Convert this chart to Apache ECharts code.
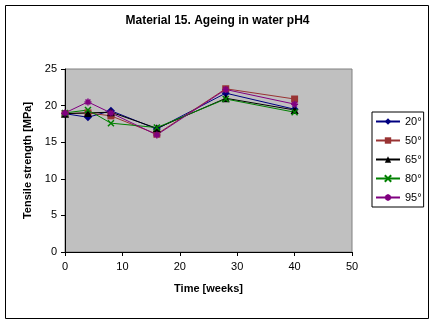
<!DOCTYPE html>
<html>
<head>
<meta charset="utf-8">
<script src="https://cdn.jsdelivr.net/npm/echarts@6/dist/echarts.min.js"></script>
<style>
  html, body { margin: 0; padding: 0; background: #fff; }
  #chart { width: 435px; height: 325px; }
</style>
</head>
<body>
<div id="chart"></div>
<script>
// Ageing time in weeks
const weeks = [0, 4, 8, 16, 28, 40];
// Tensile strength [MPa] for each ageing temperature
const s20 = [18.9, 18.4, 19.3, 16.8, 21.7, 19.5];
const s50 = [18.9, 19.0, 18.6, 16.1, 22.3, 20.9];
const s65 = [18.9, 19.0, 19.1, 16.9, 21.0, 19.4];
const s80 = [19.0, 19.4, 17.6, 17.0, 20.9, 19.1];
const s95 = [19.0, 20.5, 19.0, 16.0, 22.2, 20.2];
const seriesNames = ['20°', '50°', '65°', '80°', '95°'];
const xTicks = [0, 10, 20, 30, 40, 50];
const yTicks = [0, 5, 10, 15, 20, 25];

const crossPath = 'path://M0,0L10,10M10,0L0,10';
const starPath = 'path://M5,0L5,10M0,5L10,5M1.5,1.5L8.5,8.5M8.5,1.5L1.5,8.5';

function pairs(vals) {
  return weeks.map((w, i) => [w, vals[i]]);
}

const styles = [
  { color: '#000080', symbol: 'diamond', size: 8, stroke: false },
  { color: '#993333', symbol: 'rect', size: 7, stroke: false },
  { color: '#000000', symbol: 'triangle', size: 8, stroke: false },
  { color: '#008000', symbol: crossPath, size: 6, stroke: true },
  { color: '#800080', symbol: starPath, size: 7, stroke: true }
];
const allValues = [s20, s50, s65, s80, s95];

const chart = echarts.init(document.getElementById('chart'), null, { renderer: 'canvas' });

chart.setOption({
  animation: false,
  backgroundColor: '#ffffff',
  title: {
    text: 'Material 15. Ageing in water pH4',
    left: 'center',
    top: 10,
    textStyle: { fontFamily: 'Liberation Sans, Arial', fontSize: 12, fontWeight: 'bold', color: '#000' }
  },
  graphic: [{
    type: 'rect',
    shape: { x: 5.5, y: 5.5, width: 423, height: 313 },
    style: { fill: 'none', stroke: '#000', lineWidth: 1 },
    z: -1
  }],
  legend: {
    orient: 'vertical',
    left: 372,
    top: 112,
    padding: [4, 2, 4, 3],
    itemGap: 8,
    itemWidth: 24,
    itemHeight: 8,
    borderColor: '#000',
    borderWidth: 1,
    backgroundColor: '#fff',
    textStyle: { fontFamily: 'Liberation Sans, Arial', fontSize: 11, color: '#000' },
    data: seriesNames
  },
  grid: {
    left: 65, top: 69, right: 83, bottom: 73,
    show: true,
    backgroundColor: '#c0c0c0',
    borderColor: '#808080',
    borderWidth: 1
  },
  xAxis: {
    type: 'value',
    min: xTicks[0],
    max: xTicks[xTicks.length - 1],
    interval: 10,
    name: 'Time [weeks]',
    nameLocation: 'middle',
    nameGap: 31,
    nameTextStyle: { fontFamily: 'Liberation Sans, Arial', fontSize: 11, fontWeight: 'bold', color: '#000' },
    axisLine: { lineStyle: { color: '#000' } },
    axisTick: { length: 4, lineStyle: { color: '#000' } },
    axisLabel: { fontFamily: 'Liberation Sans, Arial', fontSize: 11, color: '#000', margin: 9 },
    splitLine: { show: false }
  },
  yAxis: {
    type: 'value',
    min: yTicks[0],
    max: yTicks[yTicks.length - 1],
    interval: 5,
    name: 'Tensile strength [MPa]',
    nameLocation: 'middle',
    nameGap: 26,
    nameTextStyle: { fontFamily: 'Liberation Sans, Arial', fontSize: 11, fontWeight: 'bold', color: '#000' },
    axisLine: { show: true, lineStyle: { color: '#000' } },
    axisTick: { show: true, length: 4, lineStyle: { color: '#000' } },
    axisLabel: { fontFamily: 'Liberation Sans, Arial', fontSize: 11, color: '#000', margin: 8 },
    splitLine: { show: false }
  },
  series: seriesNames.map((name, i) => {
    const st = styles[i];
    return {
      name: name,
      type: 'line',
      data: pairs(allValues[i]),
      symbol: st.symbol,
      symbolSize: st.size,
      showSymbol: true,
      lineStyle: { color: st.color, width: 1 },
      itemStyle: st.stroke
        ? { color: st.color, borderColor: st.color, borderWidth: 1.5 }
        : { color: st.color, borderWidth: 0 },
      emphasis: { disabled: true }
    };
  })
});
</script>
</body>
</html>
